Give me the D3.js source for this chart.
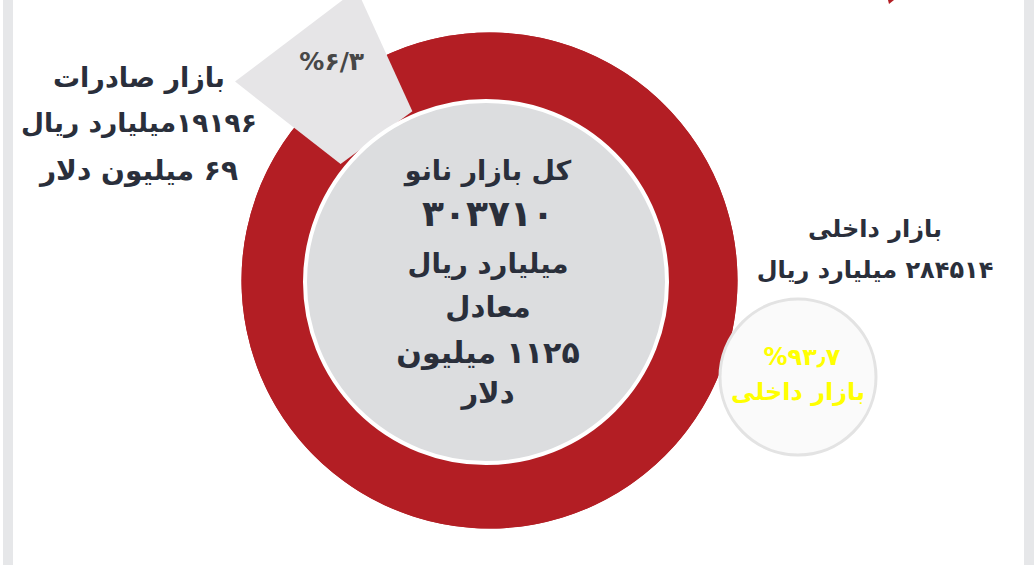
<!DOCTYPE html>
<html lang="fa">
<head>
<meta charset="utf-8">
<script src="https://cdn.jsdelivr.net/npm/d3@7"></script>
<style>
  html, body { margin: 0; padding: 0; background: #ffffff; }
  svg { display: block; }
  text { font-family: "DejaVu Sans", "Noto Sans", sans-serif; font-weight: bold; }
</style>
</head>
<body>
<svg id="chart" width="1034" height="565"></svg>
<script>
// ---- data ----
const categories = ["بازار داخلی", "بازار صادرات"];
const shares = [93.7, 6.3];                       // percent of total nano market
const shareLabels = ["%۹۳٫۷", "%۶/۳"];
const valuesBillionRial = [284514, 19196];
const totalBillionRial = 303710;
const exportLabelLines = ["بازار صادرات", "۱۹۱۹۶میلیارد ریال", "۶۹ میلیون دلار"];
const centerLines = ["کل بازار نانو", "۳۰۳۷۱۰", "میلیارد ریال", "معادل", "۱۱۲۵ میلیون", "دلار"];
const domesticLabelLines = ["بازار داخلی", "۲۸۴۵۱۴ میلیارد ریال"];
const bubbleLines = [shareLabels[0], categories[0]];

// ---- layout / style ----
const W = 1034, H = 565;
const RED = "#b31e24", WEDGE = "#e6e5e7", INNER = "#dcdddf", DARK = "#2a2f3b";
const cx = 489.5, cy = 280.5, R = 248;
const innerCx = 486, innerCy = 282, innerR = 181;
const deg = Math.PI / 180;

const svg = d3.select("#chart");

// side frame bars
svg.append("rect").attr("x", 3).attr("y", 0).attr("width", 10).attr("height", H).attr("fill", "#e6e7e9");
svg.append("rect").attr("x", 1024).attr("y", 0).attr("width", 10).attr("height", H).attr("fill", "#e6e7e9");
// small red fragment at top
svg.append("path").attr("d", "M888,0 L894,0 L889,4 Z").attr("fill", RED);

// pie layout: rotate so that the export slice sits at upper-left
const startA = -26.9 * deg;
const pie = d3.pie().sort(null).value(d => d).startAngle(startA).endAngle(startA + 2 * Math.PI);
const arcs = pie(shares);

const g = svg.append("g").attr("transform", `translate(${cx},${cy})`);

// donut track + domestic slice
g.append("circle").attr("r", R).attr("fill", RED);
g.append("path")
  .attr("d", d3.arc().innerRadius(0).outerRadius(R)(arcs[0]))
  .attr("fill", RED);

// export wedge (pulled out, straight-edged)
const ex = arcs[1];
const spread = 2.4 * deg;
const a0 = ex.startAngle - spread, a1 = ex.endAngle + spread;
const wedgePts = [
  d3.pointRadial(a0, 189), d3.pointRadial(a0, 323),
  d3.pointRadial(a1, 320), d3.pointRadial(a1, 186)
];
g.append("path")
  .attr("d", d3.line()(wedgePts) + "Z")
  .attr("fill", WEDGE);

const mid = (ex.startAngle + ex.endAngle) / 2 + 2 * deg;
const lp = d3.pointRadial(mid, 272);
g.append("text")
  .attr("x", lp[0] + 3).attr("y", lp[1] + 9)
  .attr("text-anchor", "middle")
  .attr("direction", "ltr")
  .attr("font-size", 25)
  .attr("letter-spacing", 1.5)
  .attr("fill", "#474747")
  .text(shareLabels[1]);

// inner disc with white ring
svg.append("circle")
  .attr("cx", innerCx).attr("cy", innerCy).attr("r", innerR)
  .attr("fill", INNER).attr("stroke", "#ffffff").attr("stroke-width", 4);

// center text
const centerBase = [180, 226, 273, 317, 363, 403];
const centerSize = [27, 36, 27.5, 29, 30, 29];
centerLines.forEach((t, i) => {
  svg.append("text")
    .attr("x", 488).attr("y", centerBase[i])
    .attr("text-anchor", "middle").attr("direction", "rtl")
    .attr("font-size", centerSize[i]).attr("fill", DARK)
    .text(t);
});

// export label (left)
const exBase = [87, 132, 180];
const exSize = [27, 26.5, 28];
exportLabelLines.forEach((t, i) => {
  svg.append("text")
    .attr("x", 139).attr("y", exBase[i])
    .attr("text-anchor", "middle").attr("direction", "rtl")
    .attr("font-size", exSize[i]).attr("fill", DARK)
    .text(t);
});

// domestic label (right)
const domBase = [237, 278];
domesticLabelLines.forEach((t, i) => {
  svg.append("text")
    .attr("x", 875).attr("y", domBase[i])
    .attr("text-anchor", "middle").attr("direction", "rtl")
    .attr("font-size", 24).attr("fill", DARK)
    .text(t);
});

// domestic share bubble
const bx = 798, by = 377;
svg.append("circle")
  .attr("cx", bx).attr("cy", by).attr("r", 78)
  .attr("fill", "#fafafa").attr("stroke", "#e3e3e3").attr("stroke-width", 3);
svg.append("text")
  .attr("x", bx + 4).attr("y", 365)
  .attr("text-anchor", "middle").attr("direction", "ltr")
  .attr("font-size", 24).attr("fill", "#ffff00")
  .text(bubbleLines[0]);
svg.append("text")
  .attr("x", bx).attr("y", 400)
  .attr("text-anchor", "middle").attr("direction", "rtl")
  .attr("font-size", 24).attr("fill", "#ffff00")
  .text(bubbleLines[1]);
</script>
</body>
</html>
